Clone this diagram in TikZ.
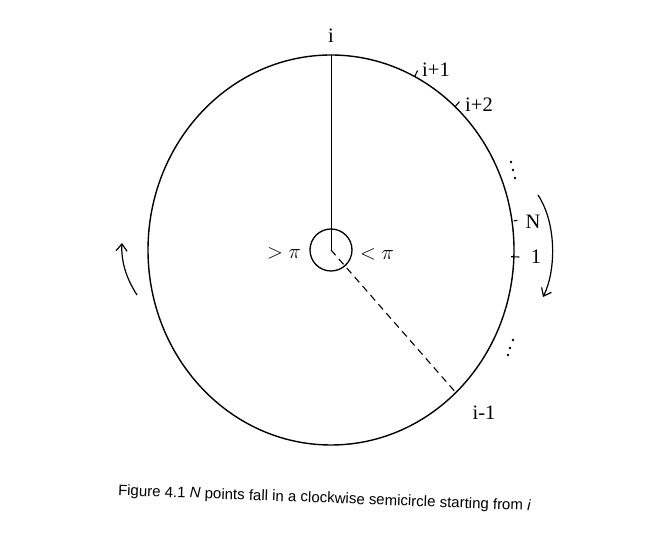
\documentclass[tikz,border=0pt]{standalone}
\usepackage{fontspec}
\setmainfont{Liberation Serif}
\newfontfamily\capfont{Liberation Sans}
\usetikzlibrary{arrows.meta,calc}
\begin{document}
\begin{tikzpicture}[x=1pt,y=1pt,
  rim/.style={line width=1.4pt},
  tickmark/.style={line width=1.1pt},
  lab/.style={font=\fontsize{20.5}{22}\selectfont, inner sep=0pt},
  turn/.style={line width=1.2pt, -{Straight Barb[length=7pt,width=11pt]}},
  dotm/.style={fill, circle, inner sep=0pt, minimum size=2.8pt}]
\useasboundingbox (0,0) rectangle (646,546);
\fill[white] (0,0) rectangle (646,546);
\coordinate (c) at (331,296);
\draw[rim] (c) ellipse [x radius=183, y radius=195];
\coordinate (top) at ($(c)+(90:183 and 195)$);
\coordinate (p1) at ($(c)+(62.8:183 and 195)$);
\coordinate (p2) at ($(c)+(47.3:183 and 195)$);
\coordinate (pN) at ($(c)+(8.5:183 and 195)$);
\coordinate (pone) at ($(c)+(-2:183 and 195)$);
\coordinate (pm) at ($(c)+(-47:183 and 195)$);
% inner circle
\node (ring) [draw, circle, line width=1.3pt, minimum size=42pt, inner sep=0pt] at (c) {};
% radial lines
\draw[line width=0.6pt] (top) -- (c);
\draw[line width=1.1pt, dash pattern=on 7pt off 5pt] (c) -- (pm);
% ticks
\draw[tickmark] (p1) -- ($(c)!1.035!(p1)$);
\draw[tickmark] (p2) -- ($(c)!1.035!(p2)$);
\draw[tickmark] ($(c)!1.01!(pN)$) -- ($(c)!1.03!(pN)$);
\draw[tickmark] ($(c)!0.985!(pone)$) -- ($(c)!1.03!(pone)$);
% labels
\node[lab] (li) at (331,510) {i};
\node[lab] (li1) at (436,476) {i+1};
\node[lab] (li2) at (479,441) {i+2};
\node[lab] (lN) at (533,324) {N};
\node[lab] (l1) at (536,289) {1};
\node[lab] (lim) at (484,133) {i-1};
\node[lab] (lgt) at (284,293) {$>\pi$};
\node[lab] (llt) at (377,292) {$<\pi$};
% dots
\node[dotm] (d1) at (511,384) {};
\node[dotm] (d2) at (513,376) {};
\node[dotm] (d3) at (515,368) {};
\node[dotm] (d4) at (513,206) {};
\node[dotm] (d5) at (510,198) {};
\node[dotm] (d6) at (508,191) {};
% direction arrows
\coordinate (ra) at (538,351);
\coordinate (rb) at (543,249);
\draw[turn] (ra) .. controls (557,322) and (556,275) .. (rb);
\coordinate (la) at (137,251);
\coordinate (lb) at (122,303);
\draw[turn] (la) .. controls (126,268) and (121,285) .. (lb);
% caption
\node (cap) [rotate=-2.1, inner sep=0pt, font=\capfont\fontsize{15}{17}\selectfont] at (324.5,47)
  {Figure 4.1 \textit{N} points fall in a clockwise semicircle starting from \textit{i}};
\end{tikzpicture}
\end{document}
